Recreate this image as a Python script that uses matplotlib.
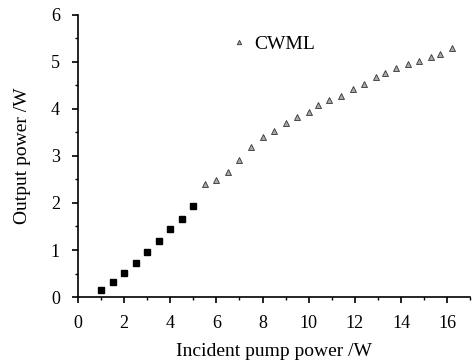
import matplotlib
matplotlib.use("Agg")
import matplotlib.pyplot as plt
from matplotlib.ticker import MultipleLocator

# CW region (squares)
cw_pump = [1.0, 1.5, 2.0, 2.5, 3.0, 3.5, 4.0, 4.5, 5.0]
cw_power = [0.15, 0.31, 0.51, 0.73, 0.96, 1.19, 1.44, 1.67, 1.94]

# CWML region (triangles)
cwml_pump = [5.5, 6.0, 6.5, 7.0, 7.5, 8.0, 8.5, 9.0, 9.5, 10.0, 10.4, 10.9,
             11.4, 11.9, 12.4, 12.9, 13.3, 13.8, 14.3, 14.8, 15.3, 15.7, 16.2]
cwml_power = [2.40, 2.48, 2.65, 2.91, 3.20, 3.41, 3.53, 3.71, 3.82, 3.93, 4.08,
              4.19, 4.28, 4.42, 4.53, 4.67, 4.76, 4.87, 4.95, 5.03, 5.10, 5.17, 5.30]

plt.rcParams['font.family'] = ['Liberation Serif', 'DejaVu Serif']

fig = plt.figure(figsize=(4.75, 3.64), dpi=100)
ax = fig.add_axes([0.164, 0.184, 0.826, 0.775])

ax.plot(cw_pump, cw_power, 's', color='black', markersize=5, linestyle='none')
ax.plot(cwml_pump, cwml_power, '^', color='#aaaaaa', markeredgecolor='#333333',
        markeredgewidth=0.6, markersize=4.5, linestyle='none', label='CWML')

ax.set_xlim(0, 17)
ax.set_ylim(0, 6)
ax.xaxis.set_major_locator(MultipleLocator(2))
ax.xaxis.set_minor_locator(MultipleLocator(1))
ax.yaxis.set_major_locator(MultipleLocator(1))
ax.yaxis.set_minor_locator(MultipleLocator(0.5))
ax.tick_params(which='major', direction='out', length=4, width=1.2, labelsize=13)
ax.tick_params(axis='x', which='major', pad=9)
ax.tick_params(axis='y', which='major', pad=9)
ax.tick_params(which='minor', direction='out', length=2.5, width=1)

ax.spines['top'].set_visible(False)
ax.spines['right'].set_visible(False)
ax.spines['left'].set_linewidth(1.2)
ax.spines['bottom'].set_linewidth(1.2)

ax.set_xlabel('Incident pump power /W', fontsize=14, labelpad=8)
ax.set_ylabel('Output power /W', fontsize=14, labelpad=14)

ax.legend(loc='upper left', bbox_to_anchor=(0.34, 0.99), frameon=False,
          fontsize=14, handletextpad=0.3, handlelength=1, markerscale=0.7)

fig.savefig('out.png', dpi=100)
